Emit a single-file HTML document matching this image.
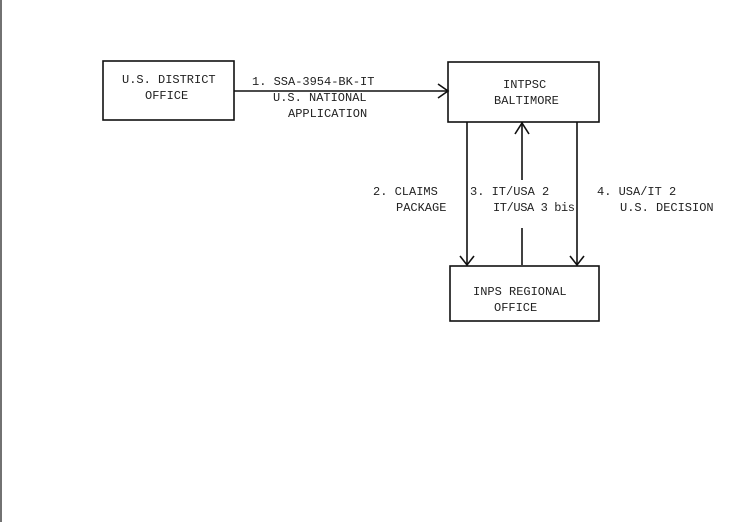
<!DOCTYPE html>
<html><head><style>
body{margin:0;background:#fff;}
svg text{font-family:"Liberation Mono",monospace;font-size:12px;fill:#222;}
</style></head><body>
<svg width="744" height="522" xmlns="http://www.w3.org/2000/svg">
<line x1="1" y1="0" x2="1" y2="522" stroke="#444" stroke-width="1.5"/>
<g fill="none" stroke="#111" stroke-width="1.6">
<rect x="103" y="61" width="131" height="59"/>
<rect x="448" y="62" width="151" height="60"/>
<rect x="450" y="266" width="149" height="55"/>
<line x1="234" y1="91" x2="448" y2="91"/>
<polyline points="438,84 448,91 438,98"/>
<line x1="467" y1="122" x2="467" y2="265"/>
<polyline points="460,256 467,265 474,256"/>
<line x1="577" y1="122" x2="577" y2="265"/>
<polyline points="570,256 577,265 584,256"/>
<line x1="522" y1="122" x2="522" y2="180"/>
<line x1="522" y1="228" x2="522" y2="265"/>
<polyline points="515,134 522,123 529,134"/>
</g>
<text x="122" y="83">U.S. DISTRICT</text>
<text x="145" y="99">OFFICE</text>
<text x="252" y="85">1. SSA-3954-BK-IT</text>
<text x="273" y="101">U.S. NATIONAL</text>
<text x="288" y="117">APPLICATION</text>
<text x="503" y="88">INTPSC</text>
<text x="494" y="104">BALTIMORE</text>
<text x="373" y="195">2. CLAIMS</text>
<text x="396" y="211">PACKAGE</text>
<text x="470" y="195">3. IT/USA 2</text>
<text x="493" y="211" textLength="82">IT/USA 3 bis</text>
<text x="597" y="195">4. USA/IT 2</text>
<text x="620" y="211">U.S. DECISION</text>
<text x="473" y="295">INPS REGIONAL</text>
<text x="494" y="311">OFFICE</text>
</svg>
</body></html>
